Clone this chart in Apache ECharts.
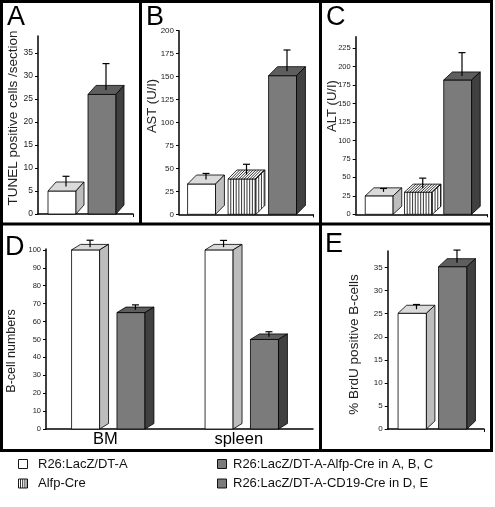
<!DOCTYPE html>
<html><head><meta charset="utf-8">
<script src="https://cdn.jsdelivr.net/npm/echarts@6/dist/echarts.min.js"></script>
<style>html,body{margin:0;padding:0;background:#fff}#c{width:495px;height:507px}</style>
</head><body><div id="c"></div>
<script>
const FONT = '"Liberation Sans", Arial, Helvetica, sans-serif';

// ---- Panel A: TUNEL positive cells / section
const aNames  = ['R26:LacZ/DT-A', 'R26:LacZ/DT-A-Alfp-Cre'];
const aValues = [5.0, 26.0];
const aErrors = [3.2, 6.7];
const aTicks  = [0, 5, 10, 15, 20, 25, 30, 35];
// ---- Panel B: AST (U/I)
const bNames  = ['R26:LacZ/DT-A', 'Alfp-Cre', 'R26:LacZ/DT-A-Alfp-Cre'];
const bValues = [33, 38.5, 151];
const bErrors = [11.5, 16, 28];
const bTicks  = [0, 25, 50, 75, 100, 125, 150, 175, 200];
// ---- Panel C: ALT (U/I)
const cNames  = ['R26:LacZ/DT-A', 'Alfp-Cre', 'R26:LacZ/DT-A-Alfp-Cre'];
const cValues = [25, 30, 182];
const cErrors = [10, 19, 37];
const cTicks  = [0, 25, 50, 75, 100, 125, 150, 175, 200, 225];
// ---- Panel D: B-cell numbers
const dCategories = ['BM', 'spleen'];
const dControl    = [100, 100];
const dControlErr = [5.4, 5.3];
const dCD19       = [65, 50];
const dCD19Err    = [4.3, 4.3];
const dTicks      = [0, 10, 20, 30, 40, 50, 60, 70, 80, 90, 100];
// ---- Panel E: % BrdU positive B-cells
const eNames  = ['R26:LacZ/DT-A', 'R26:LacZ/DT-A-CD19-Cre'];
const eValues = [25.1, 35.2];
const eErrors = [1.9, 3.6];
const eTicks  = [0, 5, 10, 15, 20, 25, 30, 35];
// ---- Legend
const legendItems = [
  {text: 'R26:LacZ/DT-A', kind: 'white'},
  {text: 'Alfp-Cre', kind: 'striped'},
  {text: 'R26:LacZ/DT-A-Alfp-Cre in A, B, C', kind: 'dark'},
  {text: 'R26:LacZ/DT-A-CD19-Cre in D, E', kind: 'dark'}
];

const STYLE = {
  white:   {front: '#ffffff', top: '#dadada', side: '#bdbdbd'},
  striped: {front: '#ffffff', top: '#ffffff', side: '#ffffff'},
  dark:    {front: '#7b7b7b', top: '#5e5e5e', side: '#404040'}
};

function makeRender(kinds, geo) {
  return function (params, api) {
    const xv = api.value(0), v = api.value(1), err = api.value(2);
    const kind = kinds[params.dataIndex];
    const unit = api.size([1, 0])[0];
    const p0 = api.coord([xv, 0]);
    const p1 = api.coord([xv, v]);
    const pe = api.coord([xv, v + err]);
    const cx = p0[0] + (geo.offset || 0) * unit;
    const w = geo.w * unit, dx = geo.dx * unit, dy = geo.dy;
    const left = cx - (w + dx) / 2;
    const base = p0[1], top = p1[1];
    const st = STYLE[kind];
    const line = {stroke: '#000', lineWidth: 0.8};
    const ch = [];
    ch.push({type: 'rect', shape: {x: left, y: top, width: w, height: base - top},
      style: Object.assign({fill: st.front}, line)});
    ch.push({type: 'polygon', shape: {points: [[left, top], [left + dx, top - dy], [left + w + dx, top - dy], [left + w, top]]},
      style: Object.assign({fill: st.top}, line)});
    ch.push({type: 'polygon', shape: {points: [[left + w, top], [left + w + dx, top - dy], [left + w + dx, base - dy], [left + w, base]]},
      style: Object.assign({fill: st.side}, line)});
    if (kind === 'striped') {
      const s = 2.7;
      for (let x = left + s; x < left + w - 0.5; x += s) {
        ch.push({type: 'line', shape: {x1: x, y1: top, x2: x, y2: base}, style: {stroke: '#000', lineWidth: 0.8}});
        ch.push({type: 'line', shape: {x1: x, y1: top, x2: x + dx, y2: top - dy}, style: {stroke: '#000', lineWidth: 0.8}});
      }
      for (let j = s; j < dx - 0.5; j += s) {
        const yo = dy * j / dx;
        ch.push({type: 'line', shape: {x1: left + w + j, y1: top - yo, x2: left + w + j, y2: base - yo}, style: {stroke: '#000', lineWidth: 0.8}});
      }
    }
    const ex = left + (w + dx) / 2;
    const ey0 = top - dy / 2;
    ch.push({type: 'line', shape: {x1: ex, y1: ey0, x2: ex, y2: pe[1]}, style: {stroke: '#000', lineWidth: 1.2}});
    ch.push({type: 'line', shape: {x1: ex - 3.5, y1: pe[1], x2: ex + 3.5, y2: pe[1]}, style: {stroke: '#000', lineWidth: 1.2}});
    return {type: 'group', children: ch};
  };
}

function yAxis(grid, max, ticks, fs) {
  return {
    type: 'value', gridIndex: grid, min: 0, max: max,
    axisLine: {show: true, onZero: false, lineStyle: {color: '#000', width: 1.5}},
    axisTick: {show: true, length: 3, lineStyle: {color: '#000', width: 1}, customValues: ticks},
    axisLabel: {customValues: ticks, fontSize: fs, color: '#222', margin: 5, fontFamily: FONT},
    splitLine: {show: false}
  };
}
function xAxis(grid, min, max) {
  return {
    type: 'value', gridIndex: grid, min: min, max: max,
    axisLine: {show: true, onZero: false, lineStyle: {color: '#000', width: 1.5}},
    axisTick: {show: true, length: 3, customValues: [max], lineStyle: {color: '#000', width: 1}},
    axisLabel: {show: false}, splitLine: {show: false}
  };
}

function seriesData(values, errors) {
  return values.map((v, i) => [i, v, errors[i]]);
}

const option = {
  animation: false,
  backgroundColor: '#fff',
  textStyle: {fontFamily: FONT},
  grid: [
    {left: 38, top: 36, width: 95, height: 178},
    {left: 179, top: 30.7, width: 134, height: 183.6},
    {left: 355.7, top: 36.7, width: 131.3, height: 177.6},
    {left: 46, top: 249, width: 267, height: 180},
    {left: 387.7, top: 251, width: 96.3, height: 178}
  ],
  xAxis: [
    xAxis(0, -0.7, 1.675),
    xAxis(1, -0.667, 2.642),
    xAxis(2, -0.708, 2.637),
    {type: 'category', gridIndex: 3, data: dCategories,
      axisLine: {show: true, onZero: false, lineStyle: {color: '#000', width: 1.5}},
      axisTick: {show: false},
      axisLabel: {fontSize: 16.5, color: '#000', margin: 2, fontFamily: FONT, padding: [0, 15, 0, 0]},
      splitLine: {show: false}},
    xAxis(4, -0.711, 1.667)
  ],
  yAxis: [
    yAxis(0, 38.7, aTicks, 8.5),
    yAxis(1, 200, bTicks, 8),
    yAxis(2, 240.6, cTicks, 7.5),
    yAxis(3, 100.5, dTicks, 7.5),
    yAxis(4, 38.6, eTicks, 8)
  ],
  series: [
    {type: 'custom', name: 'Panel A', xAxisIndex: 0, yAxisIndex: 0, data: seriesData(aValues, aErrors),
      renderItem: makeRender(['white', 'dark'], {w: 0.7, dx: 0.2, dy: 9}), encode: {x: 0, y: 1}},
    {type: 'custom', name: 'Panel B', xAxisIndex: 1, yAxisIndex: 1, data: seriesData(bValues, bErrors),
      renderItem: makeRender(['white', 'striped', 'dark'], {w: 0.69, dx: 0.22, dy: 9}), encode: {x: 0, y: 1}},
    {type: 'custom', name: 'Panel C', xAxisIndex: 2, yAxisIndex: 2, data: seriesData(cValues, cErrors),
      renderItem: makeRender(['white', 'striped', 'dark'], {w: 0.71, dx: 0.22, dy: 8}), encode: {x: 0, y: 1}},
    {type: 'custom', name: 'R26:LacZ/DT-A', xAxisIndex: 3, yAxisIndex: 3, data: seriesData(dControl, dControlErr),
      renderItem: makeRender(['white', 'white'], {w: 0.21, dx: 0.067, dy: 5.5, offset: -0.17}), encode: {x: 0, y: 1}},
    {type: 'custom', name: 'R26:LacZ/DT-A-CD19-Cre', xAxisIndex: 3, yAxisIndex: 3, data: seriesData(dCD19, dCD19Err),
      renderItem: makeRender(['dark', 'dark'], {w: 0.21, dx: 0.067, dy: 5.5, offset: 0.17}), encode: {x: 0, y: 1}},
    {type: 'custom', name: 'Panel E', xAxisIndex: 4, yAxisIndex: 4, data: seriesData(eValues, eErrors),
      renderItem: makeRender(['white', 'dark'], {w: 0.7, dx: 0.21, dy: 8}), encode: {x: 0, y: 1}}
  ],
  graphic: []
};

const G = option.graphic;
// panel frame
const bw = 3;
[[1.5, 1.5, 491.5, 1.5], [1.5, 450.5, 491.5, 450.5], [1.5, 0, 1.5, 452], [491.5, 0, 491.5, 452],
 [0, 224, 493, 224], [140.5, 0, 140.5, 224], [320.5, 0, 320.5, 224], [320.5, 224, 320.5, 452]
].forEach(l => G.push({type: 'line', shape: {x1: l[0], y1: l[1], x2: l[2], y2: l[3]}, style: {stroke: '#000', lineWidth: bw}, z: 10}));

// panel letters
[['A', 7, 17.5], ['B', 146, 17.5], ['C', 326, 17.5], ['D', 5, 247.5], ['E', 325, 245]].forEach(t =>
  G.push({type: 'text', x: t[1], y: t[2], style: {text: t[0], font: '27px ' + FONT, fill: '#000', align: 'left', verticalAlign: 'middle'}}));

// axis titles (rotated)
[['TUNEL positive cells /section', 13, 118, 13.5], ['AST (U/I)', 152, 106, 13], ['ALT (U/I)', 332, 106, 13],
 ['B-cell numbers', 12, 351, 12.5], ['% BrdU positive B-cells', 354, 344.5, 13.5]].forEach(t =>
  G.push({type: 'text', x: t[1], y: t[2], rotation: Math.PI / 2,
    style: {text: t[0], font: t[3] + 'px ' + FONT, fill: '#222', align: 'center', verticalAlign: 'middle'}}));

// legend
const legPos = [[18, 464, 38], [18, 483.5, 38], [217, 464, 233], [217, 483.5, 233]];
legendItems.forEach((it, i) => {
  const p = legPos[i];
  const st = STYLE[it.kind];
  G.push({type: 'rect', shape: {x: p[0] + 0.5, y: p[1] - 4.5, width: 9, height: 9}, style: {fill: st.front, stroke: '#000', lineWidth: 0.9}});
  if (it.kind === 'striped') {
    for (let x = p[0] + 2.5; x < p[0] + 9.5; x += 2.2)
      G.push({type: 'line', shape: {x1: x, y1: p[1] - 4.5, x2: x, y2: p[1] + 4.5}, style: {stroke: '#000', lineWidth: 0.8}});
  }
  G.push({type: 'text', x: p[2], y: p[1], style: {text: it.text, font: '13px ' + FONT, fill: '#111', align: 'left', verticalAlign: 'middle'}});
});

const chart = echarts.init(document.getElementById('c'), null, {renderer: 'canvas'});
chart.setOption(option);
</script>
</body></html>
